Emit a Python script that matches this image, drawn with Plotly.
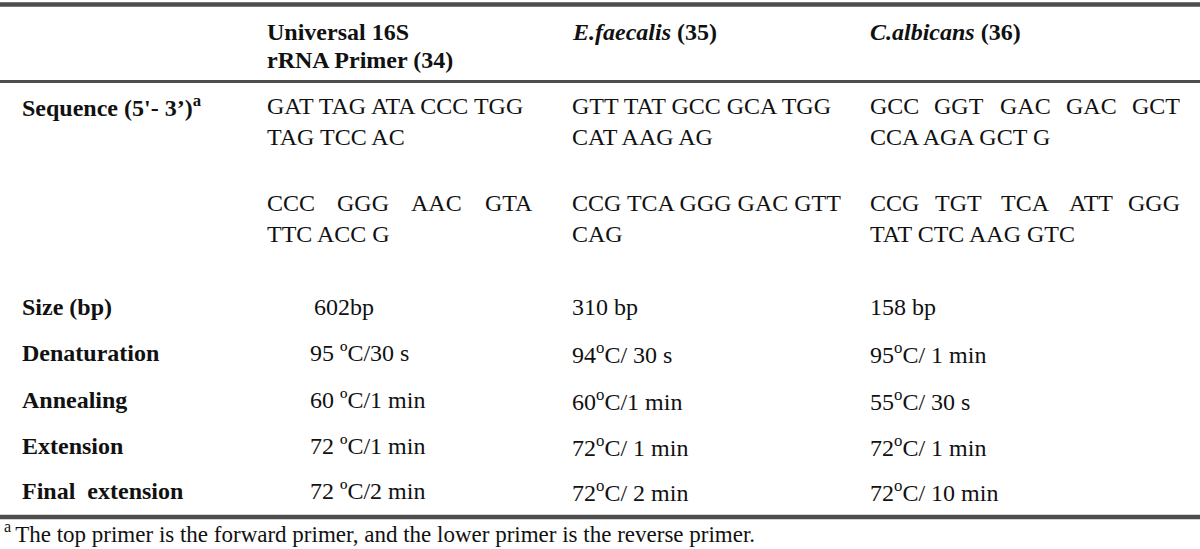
import plotly.graph_objects as go

# ---------------- data ----------------
col_headers = ["Universal 16S<br>rRNA Primer (34)", "<i>E.faecalis</i> (35)", "<i>C.albicans</i> (36)"]
seq_label = "Sequence (5'- 3’)<sup>a</sup>"
forward_primers = [
    ["GAT TAG ATA CCC TGG", "TAG TCC AC"],
    ["GTT TAT GCC GCA TGG", "CAT AAG AG"],
    ["GCC GGT GAC GAC GCT", "CCA AGA GCT G"],
]
reverse_primers = [
    ["CCC GGG AAC GTA", "TTC ACC G"],
    ["CCG TCA GGG GAC GTT", "CAG"],
    ["CCG TGT TCA ATT GGG", "TAT CTC AAG GTC"],
]
param_labels = ["Size (bp)", "Denaturation", "Annealing", "Extension", "Final  extension"]
sizes = ["602bp", "310 bp", "158 bp"]
denaturation = ["95 ºC/30 s", "94<sup>o</sup>C/ 30 s", "95<sup>o</sup>C/ 1 min"]
annealing = ["60 ºC/1 min", "60<sup>o</sup>C/1 min", "55<sup>o</sup>C/ 30 s"]
extension = ["72 ºC/1 min", "72<sup>o</sup>C/ 1 min", "72<sup>o</sup>C/ 1 min"]
final_extension = ["72 ºC/2 min", "72<sup>o</sup>C/ 2 min", "72<sup>o</sup>C/ 10 min"]
footnote = "<sup>a </sup>The top primer is the forward primer, and the lower primer is the reverse primer."

# ---------------- layout constants ----------------
W, H = 1200, 549
FONT = "Liberation Serif, Times New Roman, serif"
FS = 24
INK = "#111111"
RULE = "#4d4d4d"
label_x = 20
col_x = [265, 570, 868]
col_right = [535, 837, 1182]
param_x = [308, 570, 868]
size_x = [312, 570, 868]
y_header = [32, 60]
y_fwd = [106, 137]
y_rev = [203, 234]
y_params = [307, 353, 400, 446, 491]
y_foot = 532

annotations = []


def add(text, x, y, bold=False, xanchor="left", size=FS):
    if bold:
        text = "<b>" + text + "</b>"
    annotations.append(dict(
        text=text, x=x, y=y, xref="x", yref="y", xanchor=xanchor, yanchor="middle",
        showarrow=False, font=dict(family=FONT, size=size, color=INK), align="left",
    ))


def add_line(text, ci, y, justify):
    words = text.split(" ")
    x0, x1 = col_x[ci], col_right[ci]
    if not justify or len(words) < 2:
        add(text, x0, y)
        return
    w = 2.05 * FS
    n = len(words)
    for i, wd in enumerate(words):
        if i == 0:
            add(wd, x0, y, xanchor="left")
        elif i == n - 1:
            add(wd, x1, y, xanchor="right")
        else:
            c = (x0 + w / 2) + i * ((x1 - w / 2) - (x0 + w / 2)) / (n - 1)
            add(wd, c, y, xanchor="center")


# headers
for ci, h in enumerate(col_headers):
    for li, p in enumerate(h.split("<br>")):
        add(p, col_x[ci], y_header[li], bold=True)

# sequences
add(seq_label, label_x, y_fwd[0], bold=True)
justify_fwd = [False, False, True]
justify_rev = [True, False, True]
for ci in range(3):
    for li, line in enumerate(forward_primers[ci]):
        add_line(line, ci, y_fwd[li], justify_fwd[ci] and li < len(forward_primers[ci]) - 1)
    for li, line in enumerate(reverse_primers[ci]):
        add_line(line, ci, y_rev[li], justify_rev[ci] and li < len(reverse_primers[ci]) - 1)

# parameter rows
param_rows = [sizes, denaturation, annealing, extension, final_extension]
for ri, (lab, vals) in enumerate(zip(param_labels, param_rows)):
    add(lab.replace("  ", "\u00a0 "), label_x, y_params[ri], bold=True)
    xs = size_x if ri == 0 else param_x
    for ci, v in enumerate(vals):
        add(v, xs[ci], y_params[ri])

# footnote
add(footnote, 2, y_foot, size=23)

shapes = [
    dict(type="line", xref="x", yref="y", x0=0, x1=W, y0=4.5, y1=4.5, line=dict(color=RULE, width=4.5)),
    dict(type="line", xref="x", yref="y", x0=0, x1=W, y0=81.5, y1=81.5, line=dict(color=RULE, width=3)),
    dict(type="line", xref="x", yref="y", x0=0, x1=W, y0=517, y1=517, line=dict(color=RULE, width=4.5)),
]

fig = go.Figure()
fig.update_layout(
    width=W, height=H, margin=dict(l=0, r=0, t=0, b=0),
    paper_bgcolor="white", plot_bgcolor="white",
    xaxis=dict(range=[0, W], visible=False, fixedrange=True),
    yaxis=dict(range=[H, 0], visible=False, fixedrange=True),
    annotations=annotations, shapes=shapes, showlegend=False,
)
fig.write_html(
    "out.html",
    config={"displayModeBar": False},
    post_script="document.body.style.margin='0';document.body.style.overflow='hidden';",
)
